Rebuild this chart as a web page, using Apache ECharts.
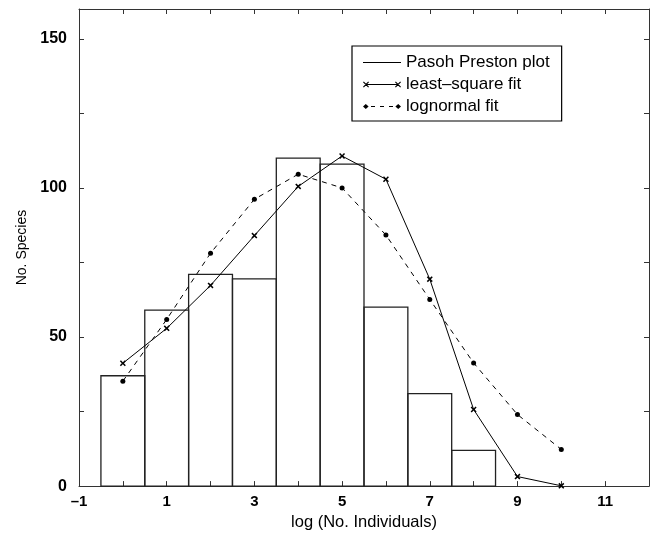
<!DOCTYPE html>
<html>
<head>
<meta charset="utf-8">
<script src="https://cdn.jsdelivr.net/npm/echarts@6/dist/echarts.min.js"></script>
<style>
  html, body { margin: 0; padding: 0; background: #fff; }
  #chart { width: 659px; height: 536px; }
</style>
</head>
<body>
<div id="chart"></div>
<script>
// ---- data ----
const binCenters = [0, 1, 2, 3, 4, 5, 6, 7, 8];
const binCounts  = [37, 59, 71, 69.5, 110, 108, 60, 31, 12];

const fitX          = [0, 1, 2, 3, 4, 5, 6, 7, 8, 9, 10];
const leastSquare   = [41.2, 52.9, 67.3, 84.0, 100.5, 110.7, 102.9, 69.4, 25.7, 3.2, 0.1];
const lognormalFit  = [35.2, 55.9, 78.1, 96.2, 104.6, 100.0, 84.2, 62.6, 41.3, 24.0, 12.3];

const seriesNames = ['Pasoh Preston plot', 'least\u2013square fit', 'lognormal fit'];
const xTitle = 'log (No. Individuals)';
const yTitle = 'No. Species';

// ---- styling helpers ----
const FONT = 'Liberation Sans, Arial, Helvetica, sans-serif';
const xMarkPath = 'path://M0,1.8L1.8,0L5,3.2L8.2,0L10,1.8L6.8,5L10,8.2L8.2,10L5,6.8L1.8,10L0,8.2L3.2,5Z';

function xMark(cx) {
  return 'M' + (cx - 3) + ',0.8L' + (cx - 2.2) + ',0L' + (cx + 3) + ',5.2L' + (cx + 2.2) + ',6Z' +
         'M' + (cx + 2.2) + ',0L' + (cx + 3) + ',0.8L' + (cx - 2.2) + ',6L' + (cx - 3) + ',5.2Z';
}
const iconPlain = 'path://M0,2.5H38V3.5H0Z';
const iconLsq = 'path://M3,2.5H35V3.5H3Z' + xMark(3) + xMark(35);
const iconLog = 'path://M0,3L2.8,0.6L5.6,3L2.8,5.4ZM32.4,3L35.2,0.6L38,3L35.2,5.4Z' +
                'M8,2.5H12V3.5H8ZM17,2.5H21V3.5H17ZM26,2.5H30V3.5H26Z';

const histData = binCenters.map((c, i) => [c, binCounts[i]]);
const lsqData = fitX.map((x, i) => [x, leastSquare[i]]);
const logData = fitX.map((x, i) => [x, lognormalFit[i]]);

const axisLineStyle = { color: '#333', width: 1 };
const tickStyle = { color: '#333', width: 1 };

const chart = echarts.init(document.getElementById('chart'), null, { renderer: 'canvas' });
chart.setOption({
  animation: false,
  backgroundColor: '#fff',
  textStyle: { fontFamily: FONT },
  grid: { left: 79, top: 9, right: 10, bottom: 49, containLabel: false },
  legend: {
    left: 352, top: 46,
    orient: 'vertical',
    selectedMode: false,
    backgroundColor: '#fff',
    borderColor: '#000',
    borderWidth: 1.2,
    borderRadius: 0,
    padding: [8, 12, 6, 11],
    itemGap: 5,
    itemWidth: 38,
    itemHeight: 6,
    itemTextGap: 7,
    itemStyle: { borderWidth: 0 },
    textStyle: { fontSize: 17, color: '#000', fontFamily: FONT },
    data: [
      { name: seriesNames[0], icon: iconPlain, itemStyle: { color: '#000', borderWidth: 0 } },
      { name: seriesNames[1], icon: iconLsq, itemStyle: { color: '#000', borderWidth: 0 } },
      { name: seriesNames[2], icon: iconLog, itemStyle: { color: '#000', borderWidth: 0 } }
    ]
  },
  xAxis: [
    {
      type: 'value', min: -1, max: 12, interval: 1,
      position: 'bottom',
      name: xTitle, nameLocation: 'middle', nameGap: 27,
      nameTextStyle: { fontSize: 16.5, color: '#000', fontFamily: FONT },
      axisLine: { show: true, onZero: false, lineStyle: axisLineStyle },
      axisTick: { show: true, inside: true, length: 5, lineStyle: tickStyle },
      axisLabel: {
        margin: 8, fontSize: 15, fontWeight: 'bold', color: '#000', fontFamily: FONT,
        formatter: v => (Math.round(v) % 2 !== 0 ? String(v).replace('-', '\u2013') : '')
      },
      splitLine: { show: false }
    },
    {
      type: 'value', min: -1, max: 12, interval: 1,
      position: 'top',
      axisLine: { show: true, onZero: false, lineStyle: axisLineStyle },
      axisTick: { show: true, inside: true, length: 5, lineStyle: tickStyle },
      axisLabel: { show: false },
      splitLine: { show: false }
    }
  ],
  yAxis: [
    {
      type: 'value', min: 0, max: 160, interval: 25,
      position: 'left',
      name: yTitle, nameLocation: 'middle', nameGap: 45,
      nameTextStyle: { fontSize: 14, color: '#000', fontFamily: FONT },
      axisLine: { show: true, onZero: false, lineStyle: axisLineStyle },
      axisTick: { show: true, inside: true, length: 5, lineStyle: tickStyle },
      axisLabel: {
        margin: 12, fontSize: 16, fontWeight: 'bold', color: '#000', fontFamily: FONT,
        formatter: v => (v % 50 === 0 ? String(v) : '')
      },
      splitLine: { show: false }
    },
    {
      type: 'value', min: 0, max: 160, interval: 25,
      position: 'right',
      axisLine: { show: true, onZero: false, lineStyle: axisLineStyle },
      axisTick: { show: true, inside: true, length: 5, lineStyle: tickStyle },
      axisLabel: { show: false },
      splitLine: { show: false }
    }
  ],
  series: [
    {
      name: seriesNames[0],
      type: 'custom',
      xAxisIndex: 0, yAxisIndex: 0,
      z: 1,
      itemStyle: { color: '#000' },
      encode: { x: 0, y: 1 },
      data: histData,
      renderItem: function (params, api) {
        const c = api.value(0), h = api.value(1);
        const p0 = api.coord([c - 0.5, 0]);
        const p1 = api.coord([c + 0.5, h]);
        return {
          type: 'rect',
          shape: { x: p0[0], y: p1[1], width: p1[0] - p0[0], height: p0[1] - p1[1] },
          style: { fill: 'none', stroke: '#222', lineWidth: 1.3 }
        };
      }
    },
    {
      name: seriesNames[1],
      type: 'line',
      xAxisIndex: 0, yAxisIndex: 0,
      z: 3,
      data: lsqData,
      symbol: xMarkPath,
      symbolSize: 6,
      showAllSymbol: true,
      color: '#000',
      itemStyle: { color: '#000', borderWidth: 0 },
      lineStyle: { color: '#000', width: 1, type: 'solid' }
    },
    {
      name: seriesNames[2],
      type: 'line',
      xAxisIndex: 0, yAxisIndex: 0,
      z: 3,
      data: logData,
      symbol: 'circle',
      symbolSize: 5,
      showAllSymbol: true,
      color: '#000',
      itemStyle: { color: '#000', borderWidth: 0 },
      lineStyle: { color: '#000', width: 1, type: [5, 5] }
    }
  ]
});
</script>
</body>
</html>
